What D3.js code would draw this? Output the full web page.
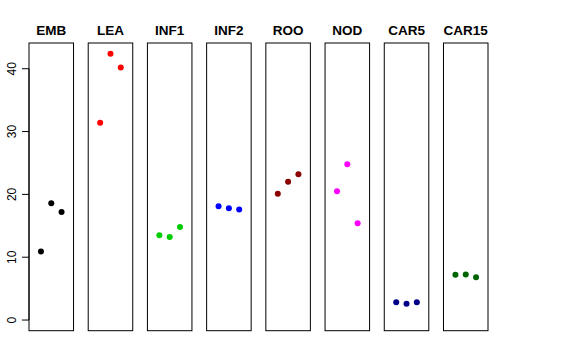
<!DOCTYPE html>
<html><head><meta charset="utf-8">
<script src="https://cdn.jsdelivr.net/npm/d3@7"></script>
<style>body{margin:0;background:#fff}svg{display:block}</style>
</head><body>
<svg id="chart" width="576" height="360"></svg>
<script>
const categories = ["EMB","LEA","INF1","INF2","ROO","NOD","CAR5","CAR15"];
const colors = ["#000000","#FF0000","#00CD00","#0000FF","#8B0000","#FF00FF","#00008B","#006400"];
const values = [
  [10.9, 18.6, 17.2],
  [31.4, 42.4, 40.2],
  [13.5, 13.2, 14.8],
  [18.1, 17.8, 17.6],
  [20.1, 22.0, 23.2],
  [20.5, 24.8, 15.4],
  [2.85, 2.6, 2.85],
  [7.2, 7.25, 6.8]
];
const yTicks = [0, 10, 20, 30, 40];

const svg = d3.select("#chart");
const font = "'Liberation Sans', Arial, Helvetica, sans-serif";

const ylim = [0, 42.4];
const yr = ylim[1]-ylim[0];
const y = d3.scaleLinear().domain([ylim[0]-0.04*yr, ylim[1]+0.04*yr]).range([330.7, 43]);

const band = d3.scaleBand().domain(categories).range([29, 488]).paddingInner(0.248).paddingOuter(0);
const bw = band.bandwidth();
const x = d3.scaleLinear().domain([-0.16, 4.16]).range([0, bw]);

categories.forEach((c, i) => {
  const g = svg.append("g").attr("transform", `translate(${band(c)},0)`);
  g.selectAll("circle").data(values[i]).join("circle")
    .attr("cx", (d, j) => x(j+1))
    .attr("cy", d => y(d))
    .attr("r", 3)
    .attr("fill", colors[i]);
  g.append("rect")
    .attr("x", 0).attr("y", y.range()[1])
    .attr("width", bw).attr("height", y.range()[0]-y.range()[1])
    .attr("fill", "none").attr("stroke", "#000").attr("stroke-width", 1);
  g.append("text")
    .attr("x", bw/2).attr("y", 34.5)
    .attr("text-anchor", "middle")
    .attr("font-family", font).attr("font-weight", "bold").attr("font-size", 13.5)
    .text(c);
});

// y axis
const ax = svg.append("g").attr("transform", `translate(${band(categories[0])},0)`);
ax.append("line").attr("x1", 0).attr("x2", 0).attr("y1", y(0)).attr("y2", y(40)).attr("stroke", "#000");
ax.selectAll("line.tick").data(yTicks).join("line").attr("class","tick")
  .attr("x1", -7).attr("x2", 0).attr("y1", d => y(d)).attr("y2", d => y(d)).attr("stroke", "#000");
ax.selectAll("text").data(yTicks).join("text")
  .attr("transform", d => `translate(-13,${y(d)}) rotate(-90)`)
  .attr("text-anchor", "middle")
  .attr("font-family", font).attr("font-size", 12)
  .text(d => d);
</script>
</body></html>
